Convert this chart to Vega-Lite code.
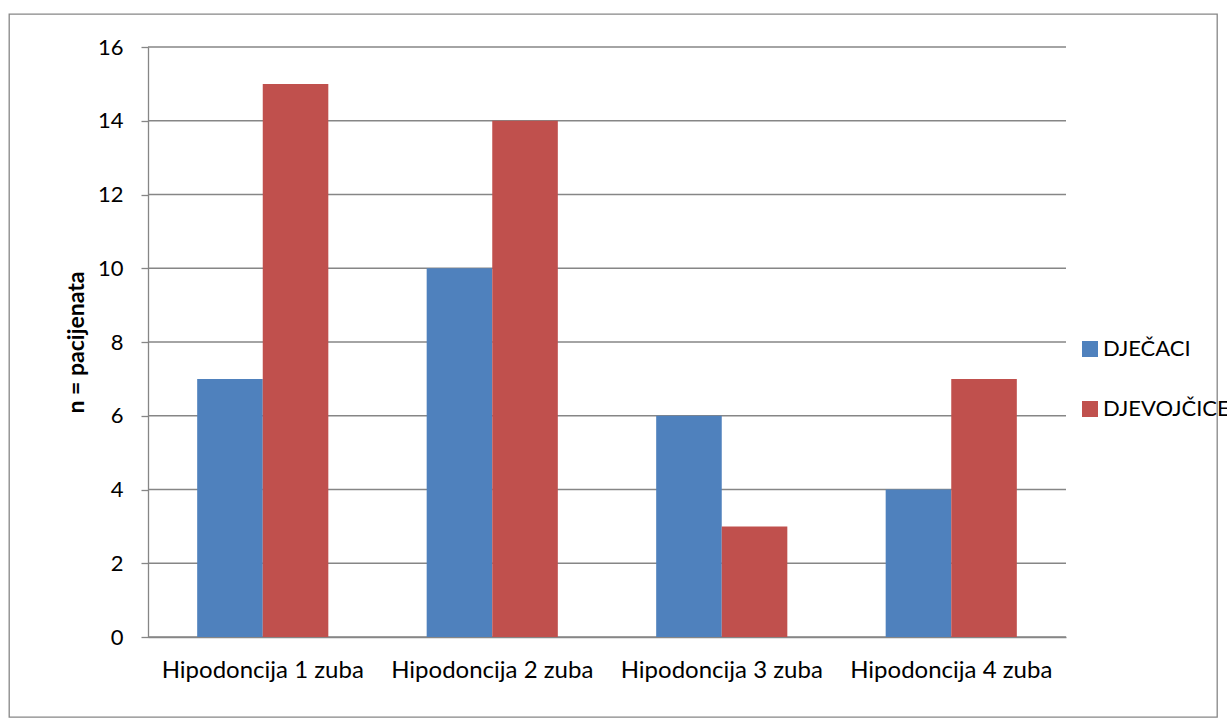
{
  "$schema": "https://vega.github.io/schema/vega-lite/v6.json",
  "description": "Hipodoncija po broju zuba, djecaci i djevojcice.",
  "autosize": "none",
  "padding": {"left": 9, "top": 14, "right": 10, "bottom": 8},
  "width": 1208,
  "height": 703,
  "config": {
    "font": "Lato",
    "view": {"stroke": "#868686", "strokeWidth": 1.3},
    "axis": {"labelColor": "#000000", "titleColor": "#000000"}
  },
  "layer": [
    {
      "data": {
        "values": [
          {"n": 0}, {"n": 2}, {"n": 4}, {"n": 6}, {"n": 8},
          {"n": 10}, {"n": 12}, {"n": 14}, {"n": 16}
        ]
      },
      "mark": {"type": "rule", "color": "#868686", "strokeWidth": 1.3},
      "encoding": {
        "x": {
          "datum": 0,
          "type": "quantitative",
          "scale": {"domain": [0, 1], "range": [139, 1057]},
          "axis": null
        },
        "x2": {"datum": 1},
        "y": {
          "field": "n",
          "type": "quantitative",
          "scale": {"domain": [0, 16], "range": [623, 33]}
        }
      }
    },
    {
      "data": {
        "values": [
          {"kategorija": "Hipodoncija 1 zuba", "spol": "DJEČACI", "n": 7},
          {"kategorija": "Hipodoncija 1 zuba", "spol": "DJEVOJČICE", "n": 15},
          {"kategorija": "Hipodoncija 2 zuba", "spol": "DJEČACI", "n": 10},
          {"kategorija": "Hipodoncija 2 zuba", "spol": "DJEVOJČICE", "n": 14},
          {"kategorija": "Hipodoncija 3 zuba", "spol": "DJEČACI", "n": 6},
          {"kategorija": "Hipodoncija 3 zuba", "spol": "DJEVOJČICE", "n": 3},
          {"kategorija": "Hipodoncija 4 zuba", "spol": "DJEČACI", "n": 4},
          {"kategorija": "Hipodoncija 4 zuba", "spol": "DJEVOJČICE", "n": 7}
        ]
      },
      "mark": {"type": "bar"},
      "encoding": {
        "x": {
          "field": "kategorija",
          "type": "nominal",
          "scale": {"range": [139, 1057], "paddingInner": 0, "paddingOuter": 0},
          "axis": {
            "orient": "bottom",
            "offset": -80,
            "title": null,
            "labelAngle": 0,
            "labelFontSize": 24,
            "labelPadding": 21,
            "labelLimit": 0,
            "ticks": false,
            "domainColor": "#868686",
            "domainWidth": 1.3
          }
        },
        "xOffset": {
          "field": "spol",
          "type": "nominal",
          "sort": ["DJEČACI", "DJEVOJČICE"],
          "scale": {"paddingInner": 0, "paddingOuter": 0.75}
        },
        "y": {
          "field": "n",
          "type": "quantitative",
          "scale": {"domain": [0, 16], "range": [623, 33]},
          "axis": {
            "offset": -139,
            "values": [0, 2, 4, 6, 8, 10, 12, 14, 16],
            "grid": false,
            "title": "n = pacijenata",
            "titleFontSize": 23,
            "titleFontWeight": "bold",
            "titleBaseline": "alphabetic",
            "titleX": -65,
            "titleY": 328,
            "labelFontSize": 22,
            "labelPadding": 18,
            "tickSize": 7,
            "tickColor": "#868686",
            "tickWidth": 1.3,
            "domainColor": "#868686",
            "domainWidth": 1.3
          }
        },
        "color": {
          "field": "spol",
          "type": "nominal",
          "scale": {
            "domain": ["DJEČACI", "DJEVOJČICE"],
            "range": ["#4f81bd", "#c0504d"]
          },
          "legend": {
            "title": null,
            "orient": "none",
            "legendX": 1070,
            "legendY": 324,
            "symbolType": "square",
            "symbolSize": 256,
            "symbolStrokeWidth": 0,
            "labelFontSize": 22,
            "labelColor": "#000000",
            "labelOffset": 2,
            "labelLimit": 0,
            "rowPadding": 38
          }
        }
      }
    }
  ],
  "resolve": {"scale": {"x": "independent"}}
}
